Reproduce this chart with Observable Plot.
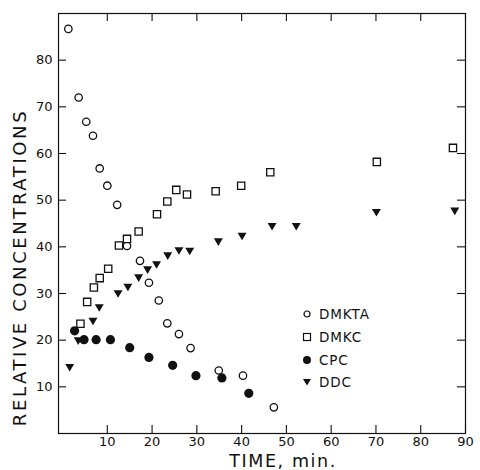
<!DOCTYPE html>
<html>
<head>
<meta charset="utf-8">
<script src="https://cdn.jsdelivr.net/npm/d3@7"></script>
<script src="https://cdn.jsdelivr.net/npm/@observablehq/plot@0.6"></script>
<style>
  html, body { margin: 0; padding: 0; background: #fff; }
  #wrap { position: relative; width: 480px; height: 470px; font-family: "DejaVu Sans", sans-serif; }
  #legend { position: absolute; left: 301px; top: 303px; font-size: 13.5px; letter-spacing: 0.9px; color: #111; }
  #legend .row { height: 22.7px; display: flex; align-items: center; }
  #legend svg { width: 12px; height: 12px; margin-right: 6px; }
</style>
</head>
<body>
<div id="wrap"><div id="legend"></div></div>
<script>
// ---- data ----
const seriesNames = ["DMKTA", "DMKC", "CPC", "DDC"];

const dmktaX = [1.3, 3.6, 5.3, 6.8, 8.3, 10, 12.2, 14.4, 17.3, 19.3, 21.5, 23.4, 26, 28.6, 34.9, 40.3, 47.2];
const dmktaY = [86.7, 72, 66.8, 63.8, 56.8, 53.1, 49, 40.2, 37, 32.3, 28.5, 23.6, 21.3, 18.3, 13.5, 12.4, 5.6];

const dmkcX = [4, 5.5, 7, 8.3, 10.2, 12.6, 14.4, 17, 21.1, 23.4, 25.4, 27.8, 34.2, 39.9, 46.4, 70.2, 87.2];
const dmkcY = [23.5, 28.2, 31.3, 33.3, 35.3, 40.3, 41.7, 43.3, 47, 49.7, 52.2, 51.2, 51.9, 53.1, 56, 58.2, 61.2];

const cpcX = [2.7, 4.8, 7.5, 10.7, 15, 19.3, 24.6, 29.8, 35.6, 41.6];
const cpcY = [22, 20.1, 20.1, 20.1, 18.4, 16.3, 14.6, 12.4, 11.9, 8.6];

const ddcX = [1.6, 3.5, 6.8, 8.2, 12.4, 14.6, 17, 19, 21, 23.5, 26, 28.4, 34.8, 40.1, 46.8, 52.2, 70.1, 87.6];
const ddcY = [14.1, 19.8, 24, 26.9, 29.9, 31.3, 33.3, 35, 36.1, 38, 39.1, 39, 41, 42.2, 44.3, 44.3, 47.3, 47.6];

const xTicks = [10, 20, 30, 40, 50, 60, 70, 80, 90];
const yTicks = [10, 20, 30, 40, 50, 60, 70, 80];
const xLabel = "TIME, min.";
const yLabel = "RELATIVE CONCENTRATIONS";

// ---- build table ----
const toRows = (name, xs, ys) => xs.map((x, i) => ({series: name, x, y: ys[i]}));
const dmkta = toRows("DMKTA", dmktaX, dmktaY);
const dmkc = toRows("DMKC", dmkcX, dmkcY);
const cpc = toRows("CPC", cpcX, cpcY);
const ddc = toRows("DDC", ddcX, ddcY);

// downward-pointing triangle symbol
const triangleDown = {
  draw(context, size) {
    const w = Math.sqrt(size) * 1.2;
    const h = w * 0.85;
    context.moveTo(-w / 2, -h / 2);
    context.lineTo(w / 2, -h / 2);
    context.lineTo(0, h / 2);
    context.closePath();
  }
};

const X0 = -0.9, X1 = 90, Y0 = 0, Y1 = 90;
const ink = "#111";

const chart = Plot.plot({
  width: 480,
  height: 470,
  marginLeft: 58,
  marginRight: 15,
  marginTop: 13,
  marginBottom: 37,
  x: {domain: [X0, X1]},
  y: {domain: [Y0, Y1]},
  style: {fontFamily: "DejaVu Sans, sans-serif", color: ink, background: "white"},
  marks: [
    Plot.frame({stroke: ink, strokeWidth: 1.2}),
    Plot.ruleX(xTicks, {x: d => d, y1: Y0, y2: Y0 + 1.7, stroke: ink, strokeWidth: 1.1}),
    Plot.ruleX(xTicks, {x: d => d, y1: Y1, y2: Y1 - 1.7, stroke: ink, strokeWidth: 1.1}),
    Plot.ruleY(yTicks, {y: d => d, x1: X0, x2: X0 + 1.8, stroke: ink, strokeWidth: 1.1}),
    Plot.ruleY(yTicks, {y: d => d, x1: X1, x2: X1 - 1.8, stroke: ink, strokeWidth: 1.1}),
    Plot.axisX(xTicks, {tickSize: 0, tickPadding: 3, label: null, fontSize: 13}),
    Plot.axisY(yTicks, {tickSize: 0, tickPadding: 6, label: null, fontSize: 13}),
    Plot.text([xLabel], {text: d => d, frameAnchor: "bottom", textAnchor: "middle", lineAnchor: "middle", dx: 21, dy: 28, fontSize: 17.5, fill: ink}),
    Plot.text([yLabel], {text: d => d, frameAnchor: "left", textAnchor: "middle", lineAnchor: "middle", rotate: -90, dx: -38, dy: 44, fontSize: 18, fill: ink}),
    Plot.dot(dmkta, {x: "x", y: "y", symbol: "circle", r: 3.7, stroke: ink, strokeWidth: 1.3, fill: "white"}),
    Plot.dot(dmkc, {x: "x", y: "y", symbol: "square", r: 4.1, stroke: ink, strokeWidth: 1.3, fill: "white"}),
    Plot.dot(cpc, {x: "x", y: "y", symbol: "circle", r: 4.6, fill: ink, stroke: "none"}),
    Plot.dot(ddc, {x: "x", y: "y", symbol: triangleDown, r: 4.2, fill: ink, stroke: "none"})
  ]
});

d3.select(chart).selectAll("text").each(function () {
  const t = this.textContent;
  if (t === xLabel) d3.select(this).attr("letter-spacing", "1.6px");
  if (t === yLabel) d3.select(this).attr("letter-spacing", "2.6px");
});

const wrap = document.getElementById("wrap");
wrap.insertBefore(chart, wrap.firstChild);

// ---- legend ----
const legendSymbols = {
  DMKTA: '<circle cx="6" cy="6" r="3" fill="white" stroke="#111" stroke-width="1.2"/>',
  DMKC: '<rect x="2.5" y="2.5" width="7" height="7" fill="white" stroke="#111" stroke-width="1.2"/>',
  CPC: '<circle cx="6" cy="6" r="4" fill="#111"/>',
  DDC: '<path d="M2,3 L10,3 L6,9.5 Z" fill="#111"/>'
};
const legend = d3.select("#legend");
seriesNames.forEach(name => {
  const row = legend.append("div").attr("class", "row");
  row.append("svg").attr("viewBox", "0 0 12 12").html(legendSymbols[name]);
  row.append("span").text(name);
});
</script>
</body>
</html>
